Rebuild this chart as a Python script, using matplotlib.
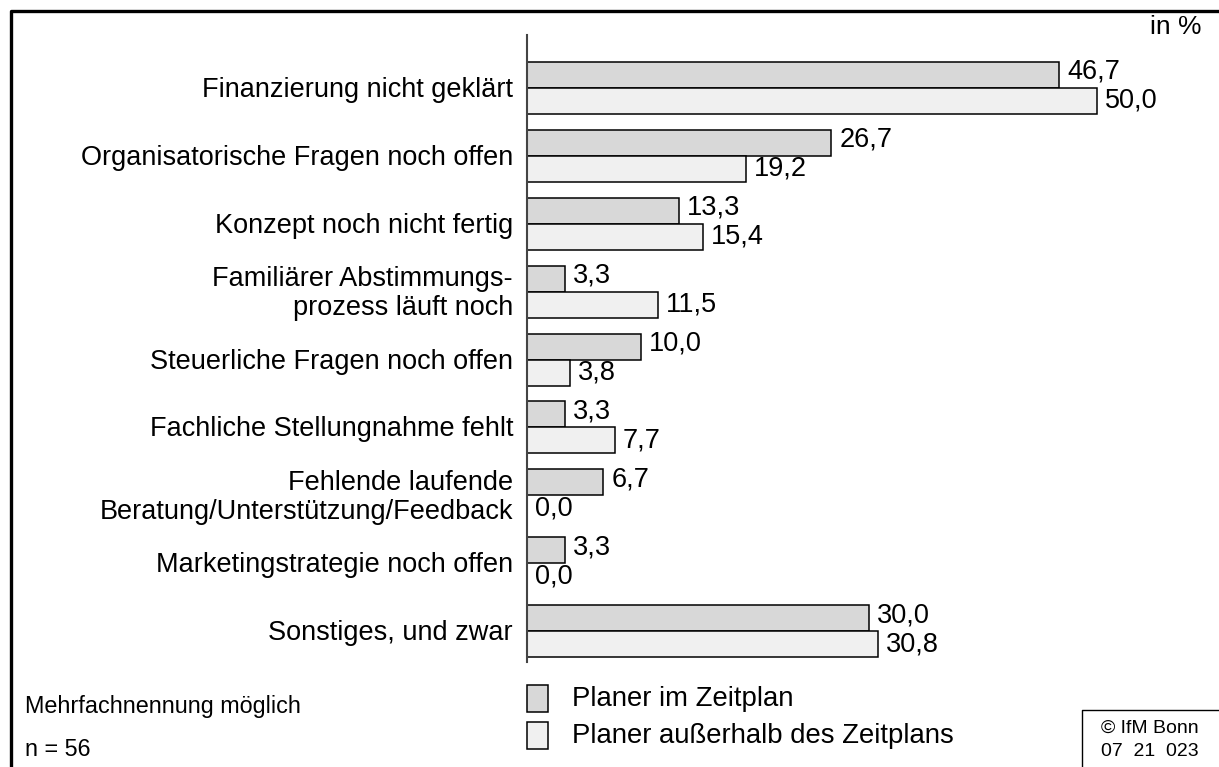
import matplotlib
matplotlib.use("Agg")
import matplotlib.pyplot as plt
from matplotlib.patches import Rectangle
from matplotlib.lines import Line2D

plt.rcParams['font.family'] = ['Liberation Sans', 'DejaVu Sans']

categories = [
    "Finanzierung nicht geklärt",
    "Organisatorische Fragen noch offen",
    "Konzept noch nicht fertig",
    "Familiärer Abstimmungs-\nprozess läuft noch",
    "Steuerliche Fragen noch offen",
    "Fachliche Stellungnahme fehlt",
    "Fehlende laufende\nBeratung/Unterstützung/Feedback",
    "Marketingstrategie noch offen",
    "Sonstiges, und zwar",
]
im_zeitplan = [46.7, 26.7, 13.3, 3.3, 10.0, 3.3, 6.7, 3.3, 30.0]
ausserhalb = [50.0, 19.2, 15.4, 11.5, 3.8, 7.7, 0.0, 0.0, 30.8]
series_names = ["Planer im Zeitplan", "Planer außerhalb des Zeitplans"]

W, H = 1219, 767
fig = plt.figure(figsize=(W / 100, H / 100), dpi=100)

x0_px, y_top_px, y_bot_px = 527, 35, 662
px_per_unit = 11.4
xmax = 55
ax = fig.add_axes([x0_px / W, 1 - y_bot_px / H, xmax * px_per_unit / W, (y_bot_px - y_top_px) / H])

group_px = 67.9
first_center = 88
ytop = (y_top_px - first_center) / group_px
ybot = (y_bot_px - first_center) / group_px
ax.set_ylim(ybot, ytop)
ax.set_xlim(0, xmax)

bh = 26 / group_px
c1, c2 = '#d8d8d8', '#f0f0f0'
pos = list(range(len(categories)))
ax.barh([p - bh / 2 for p in pos], im_zeitplan, height=bh, color=c1, edgecolor='black', linewidth=1.1)
ax.barh([p + bh / 2 for p in pos], ausserhalb, height=bh, color=c2, edgecolor='black', linewidth=1.1)

fs = 19.5
off = 8 / px_per_unit
for p, v in zip(pos, im_zeitplan):
    ax.text(v + off, p - bh / 2 - 3 / group_px, f"{v:.1f}".replace('.', ','), va='center', ha='left', fontsize=fs)
for p, v in zip(pos, ausserhalb):
    ax.text(v + off, p + bh / 2, f"{v:.1f}".replace('.', ','), va='center', ha='left', fontsize=fs)
for p, c in zip(pos, categories):
    ax.text(-14 / px_per_unit, p + 2 / group_px, c, va='center', ha='right', fontsize=fs, linespacing=1.12)

for s in ['top', 'right', 'bottom']:
    ax.spines[s].set_visible(False)
ax.spines['left'].set_color('#444444')
ax.spines['left'].set_linewidth(1.5)
ax.set_xticks([])
ax.set_yticks([])
ax.patch.set_alpha(0)

fig.text(1201 / W, 1 - 27 / H, "in %", ha='right', va='center', fontsize=19)

# legend
for i, (name, col) in enumerate(zip(series_names, [c1, c2])):
    top = 685 + i * 37
    fig.patches.append(Rectangle((527 / W, 1 - (top + 27) / H), 21 / W, 27 / H,
                                 transform=fig.transFigure, facecolor=col, edgecolor='black', linewidth=1.1))
    fig.text(572 / W, 1 - (top + 14) / H, name, ha='left', va='center', fontsize=19.8)

fig.text(25 / W, 1 - 706 / H, "Mehrfachnennung möglich", ha='left', va='center', fontsize=16.8)
fig.text(25 / W, 1 - 750 / H, "n = 56", ha='left', va='center', fontsize=16.8)

# copyright box
fig.add_artist(Line2D([1082 / W, 1082 / W, 1.0], [0, 1 - 710 / H, 1 - 710 / H],
                      transform=fig.transFigure, color='black', linewidth=1.0))
fig.text(1150 / W, 1 - 728 / H, "© IfM Bonn", ha='center', va='center', fontsize=14)
fig.text(1150 / W, 1 - 751 / H, "07  21  023", ha='center', va='center', fontsize=14)

# outer frame
fig.add_artist(Line2D([10.5 / W, 10.5 / W, 1.0], [0, 1 - 10.5 / H, 1 - 10.5 / H],
                      transform=fig.transFigure, color='black', linewidth=2.4))

fig.savefig("out.png", dpi=100)
